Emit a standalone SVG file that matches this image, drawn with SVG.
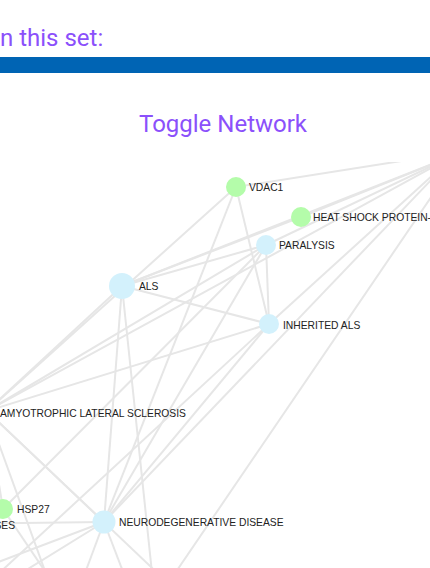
<svg xmlns="http://www.w3.org/2000/svg" width="430" height="568" viewBox="0 0 430 568">
<defs>
<style>
.hd{font-family:Roboto,"Liberation Sans",sans-serif;font-size:24px;fill:#8b50fb}
.lbl{font-family:"Liberation Sans",Arial,sans-serif;font-size:10.3px;fill:#222}
.e line{stroke:#e6e6e6;stroke-width:2}
.g{fill:#b4fcaa}
.b{fill:#d3f1fc}
</style>
<clipPath id="net"><rect x="0" y="162" width="430" height="406"/></clipPath>
</defs>
<rect width="430" height="568" fill="#fff"/>
<text class="hd" x="0" y="45.5">n this set:</text>
<rect x="0" y="57" width="430" height="16" fill="#0064b4"/>
<text class="hd" x="223" y="132" text-anchor="middle" font-size="23.5">Toggle Network</text>
<g clip-path="url(#net)">
<g id="connectors" class="e">
<line x1="236" y1="187" x2="554" y2="137"/>
<line x1="236" y1="187" x2="-13" y2="411"/>
<line x1="236" y1="187" x2="104" y2="522"/>
<line x1="236" y1="187" x2="269" y2="324"/>
<line x1="266" y1="245" x2="269" y2="324"/>
<line x1="122" y1="286" x2="269" y2="324"/>
<line x1="122" y1="286" x2="104" y2="522"/>
<line x1="122" y1="286" x2="159" y2="640"/>
<line x1="455" y1="155" x2="301" y2="217"/>
<line x1="455" y1="155" x2="266" y2="245"/>
<line x1="455" y1="155" x2="122" y2="286"/>
<line x1="455" y1="155" x2="-13" y2="411"/>
<line x1="455" y1="155" x2="104" y2="522"/>
<line x1="455" y1="155" x2="269" y2="324"/>
<line x1="470" y1="140" x2="150" y2="610"/>
<line x1="266" y1="245" x2="-13" y2="411"/>
<line x1="269" y1="324" x2="-13" y2="411"/>
<line x1="122" y1="286" x2="-13" y2="411"/>
<line x1="-13" y1="411" x2="104" y2="522"/>
<line x1="-13" y1="411" x2="3" y2="509"/>
<line x1="-13" y1="411" x2="70" y2="640"/>
<line x1="-13" y1="411" x2="170" y2="585"/>
<line x1="266" y1="245" x2="3" y2="509"/>
<line x1="266" y1="245" x2="104" y2="522"/>
<line x1="122" y1="286" x2="266" y2="245"/>
<line x1="122" y1="286" x2="301" y2="217"/>
<line x1="269" y1="324" x2="104" y2="522"/>
<line x1="269" y1="324" x2="-30" y2="600"/>
<line x1="104" y1="522" x2="-165" y2="525"/>
<line x1="104" y1="522" x2="-60" y2="584"/>
<line x1="104" y1="522" x2="-40" y2="611"/>
<line x1="104" y1="522" x2="75" y2="600"/>
<line x1="104" y1="522" x2="135" y2="603"/>
<line x1="3" y1="509" x2="57" y2="589"/>
</g>
</g>
<g id="n-vdac1"><circle class="g" cx="236" cy="187" r="10"/><text class="lbl" x="249" y="191">VDAC1</text></g>
<g id="n-hsp"><circle class="g" cx="301" cy="217" r="10"/><text class="lbl" x="313" y="221" font-size="10">HEAT SHOCK PROTEIN-</text></g>
<g id="n-paralysis"><circle class="b" cx="266" cy="245" r="10"/><text class="lbl" x="279" y="249">PARALYSIS</text></g>
<g id="n-als"><circle class="b" cx="122" cy="286" r="13"/><text class="lbl" x="139" y="290">ALS</text></g>
<g id="n-inherited"><circle class="b" cx="269" cy="324" r="10"/><text class="lbl" x="283" y="329">INHERITED ALS</text></g>
<g id="n-amyotrophic"><text class="lbl" x="0" y="417">AMYOTROPHIC LATERAL SCLEROSIS</text></g>
<g id="n-hsp27"><circle class="g" cx="3" cy="509" r="10"/><text class="lbl" x="17" y="513">HSP27</text></g>
<g id="n-diseases"><text class="lbl" x="15" y="529" text-anchor="end">SES</text></g>
<g id="n-neuro"><circle class="b" cx="104" cy="522" r="11.5"/><text class="lbl" x="119" y="526">NEURODEGENERATIVE DISEASE</text></g>
</svg>
